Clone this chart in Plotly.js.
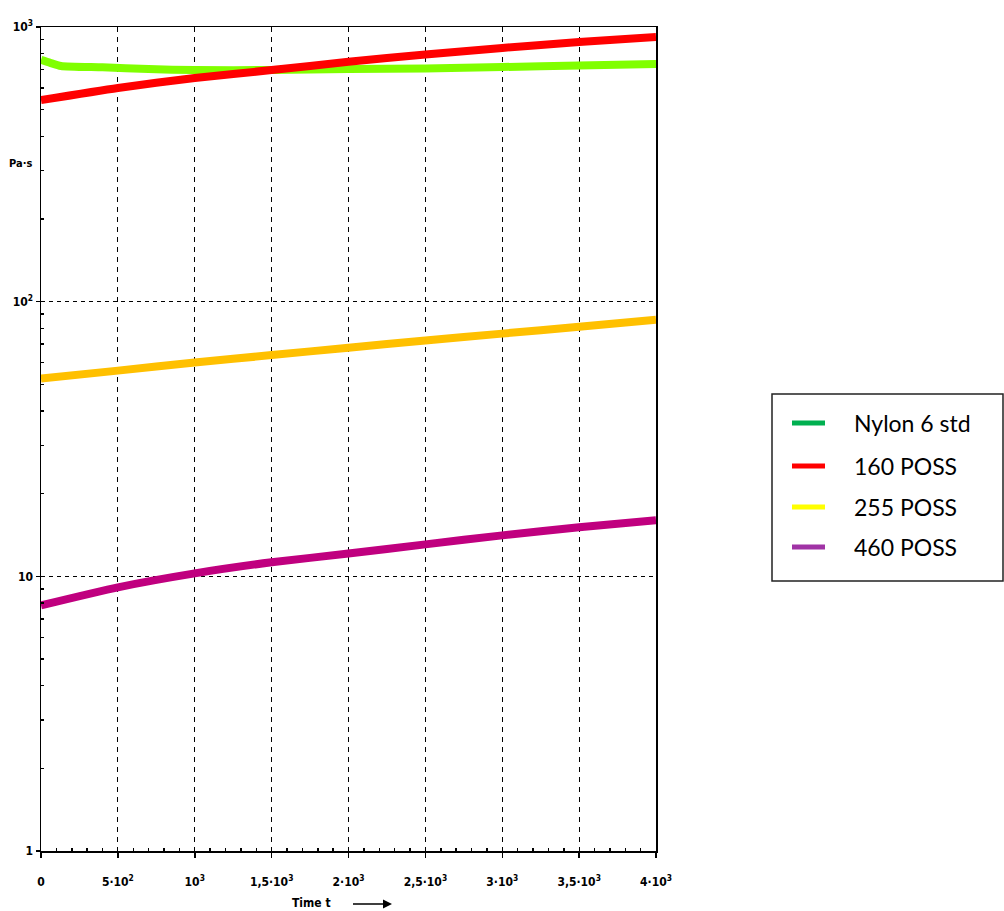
<!DOCTYPE html>
<html>
<head>
<meta charset="utf-8">
<script src="https://cdn.plot.ly/plotly-3.0.1.min.js"></script>
<style>html,body{margin:0;padding:0;background:#fff;}#chart{width:1004px;height:911px;}</style>
</head>
<body>
<div id="chart"></div>
<script>
// ---- data ----
const seriesNames = ['Nylon 6 std', '160 POSS', '255 POSS', '460 POSS'];
const nylonX = [0, 60, 130, 400, 700, 1000, 1500, 2000, 2500, 3000, 3500, 4000];
const nylonY = [759, 740, 721, 713, 703, 697, 697, 703, 706, 715, 724, 733];
const poss160X = [0, 500, 1000, 1500, 2000, 2500, 3000, 3500, 4000];
const poss160Y = [542, 600, 652, 697, 747, 794, 839, 882, 920];
const poss255X = [0, 500, 1000, 1500, 2000, 2500, 3000, 3500, 4000];
const poss255Y = [52.5, 56.1, 60.0, 63.9, 68.0, 72.2, 76.5, 81.1, 86.0];
const poss460X = [0, 500, 1000, 1500, 2000, 2500, 3000, 3500, 4000];
const poss460Y = [7.84, 9.12, 10.25, 11.25, 12.1, 13.07, 14.1, 15.1, 16.0];
const lineColors = ['#80FF00', '#FF0000', '#FFC000', '#C0007F'];
const legendColors = ['#00B050', '#FF0000', '#FFFF00', '#A033A5'];
const xTickVals = [0, 500, 1000, 1500, 2000, 2500, 3000, 3500, 4000];
const xTickText = ['0', '5·10<sup>2</sup>', '10<sup>3</sup>', '1,5·10<sup>3</sup>', '2·10<sup>3</sup>',
                   '2,5·10<sup>3</sup>', '3·10<sup>3</sup>', '3,5·10<sup>3</sup>', '4·10<sup>3</sup>'];
const yTickVals = [1, 10, 100, 1000];
const yTickText = ['1', '10', '10<sup>2</sup>', '10<sup>3</sup>'];
const yAxisLabel = 'Pa·s';
const xAxisLabel = 'Time t';

// ---- layout helpers (pixel -> paper) ----
const W = 1004, H = 911, L = 41, R = 656, T = 27, B = 851;
const px = v => (v - L) / (R - L);
const py = v => (B - v) / (B - T);

const xs = [nylonX, poss160X, poss255X, poss460X];
const ys = [nylonY, poss160Y, poss255Y, poss460Y];
const traces = xs.map((x, i) => ({
  x: x, y: ys[i], type: 'scatter', mode: 'lines', name: seriesNames[i],
  line: {color: lineColors[i], width: 8, shape: 'spline', smoothing: 0.6},
  showlegend: false, hoverinfo: 'skip'
}));

const tickFont = {family: 'DejaVu Sans Condensed, DejaVu Sans, sans-serif', size: 12, color: '#000', weight: 'bold'};

const minorY = [];
[1, 10, 100].forEach(d => { for (let k = 2; k <= 9; k++) minorY.push(k * d); });
const minorX = [];
for (let v = 100; v < 4000; v += 100) if (v % 500) minorX.push(v);

const shapes = [];
const annotations = [];
// legend box
shapes.push({type: 'rect', xref: 'paper', yref: 'paper', x0: px(772), x1: px(1003), y0: py(581), y1: py(394),
  line: {color: '#222', width: 1.5}, fillcolor: 'rgba(0,0,0,0)'});
const rowY = [423, 466, 507, 547];
seriesNames.forEach((n, i) => {
  shapes.push({type: 'line', xref: 'paper', yref: 'paper', x0: px(792), x1: px(825), y0: py(rowY[i]), y1: py(rowY[i]),
    line: {color: legendColors[i], width: 5}});
  annotations.push({xref: 'paper', yref: 'paper', x: px(852), y: py(rowY[i]), xanchor: 'left', yanchor: 'middle',
    text: n, showarrow: false, font: {family: 'Lato, Open Sans, sans-serif', size: 23, color: '#000'}});
});
// axis labels
annotations.push({xref: 'paper', yref: 'paper', x: px(20), y: py(164), xanchor: 'center', yanchor: 'middle',
  text: yAxisLabel, showarrow: false,
  font: {family: tickFont.family, size: 11, color: '#000', weight: 'bold'}});
annotations.push({xref: 'paper', yref: 'paper', x: px(311), y: py(903), xanchor: 'center', yanchor: 'middle',
  text: xAxisLabel, showarrow: false,
  font: {family: tickFont.family, size: 12, color: '#000', weight: 'bold'}});
annotations.push({xref: 'paper', yref: 'paper', x: px(392), y: py(904), ax: -42, ay: 0, text: ' ', showarrow: true,
  arrowhead: 2, arrowsize: 1.2, arrowwidth: 1.5, arrowcolor: '#000'});

const layout = {
  width: W, height: H,
  margin: {l: L, r: W - R, t: T, b: H - B, pad: 0},
  paper_bgcolor: '#fff', plot_bgcolor: '#fff',
  showlegend: false,
  xaxis: {
    range: [0, 4000], tickvals: xTickVals, ticktext: xTickText,
    showline: true, mirror: true, linecolor: '#000', linewidth: 1.5,
    ticks: 'outside', ticklen: 5, tickcolor: '#000', tickwidth: 1.5,
    ticklabelstandoff: 14,
    showgrid: true, gridcolor: '#000', gridwidth: 1.2, griddash: '5px,5px',
    zeroline: false, tickfont: tickFont,
    minor: {tickvals: minorX, ticks: 'inside', ticklen: 3, tickcolor: '#000', showgrid: false}
  },
  yaxis: {
    type: 'log', range: [0, 3], tickvals: yTickVals, ticktext: yTickText,
    showline: true, mirror: true, linecolor: '#000', linewidth: 1.5,
    ticks: 'outside', ticklen: 4, tickcolor: '#000', tickwidth: 1.5,
    showgrid: true, gridcolor: '#000', gridwidth: 1.2, griddash: '4px,4px',
    zeroline: false, tickfont: tickFont,
    minor: {tickvals: minorY, ticks: 'inside', ticklen: 3, tickcolor: '#000', showgrid: false}
  },
  shapes: shapes,
  annotations: annotations
};

Plotly.newPlot('chart', traces, layout, {staticPlot: true, displayModeBar: false});
</script>
</body>
</html>
